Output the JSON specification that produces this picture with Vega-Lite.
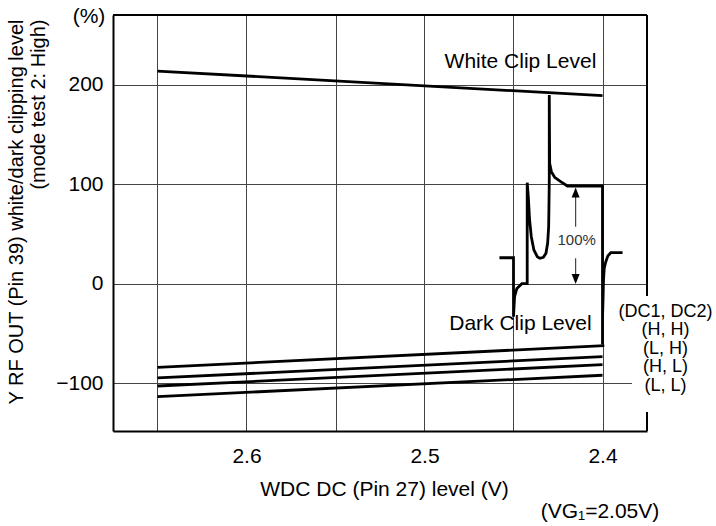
{
  "$schema": "https://vega.github.io/schema/vega-lite/v6.json",
  "width": 534,
  "height": 416,
  "autosize": {"type": "none"},
  "padding": {"left": 113, "top": 15, "right": 69, "bottom": 95},
  "background": "white",
  "config": {
    "view": {"stroke": null},
    "font": "Liberation Sans",
    "text": {"font": "Liberation Sans", "color": "black"}
  },
  "datasets": {
    "curves": [
      {"series": "white", "i": 0, "v": 2.65, "val": 213.7},
      {"series": "white", "i": 1, "v": 2.4, "val": 188.9},
      {"series": "HH", "i": 0, "v": 2.65, "val": -84.0},
      {"series": "HH", "i": 1, "v": 2.399, "val": -62.3},
      {"series": "LH", "i": 0, "v": 2.65, "val": -94.7},
      {"series": "LH", "i": 1, "v": 2.4, "val": -73.3},
      {"series": "HL", "i": 0, "v": 2.65, "val": -102.8},
      {"series": "HL", "i": 1, "v": 2.4, "val": -81.4},
      {"series": "LL", "i": 0, "v": 2.65, "val": -113.5},
      {"series": "LL", "i": 1, "v": 2.4, "val": -92.0},
      {"series": "wave", "i": 0, "v": 2.4579, "val": 26.1},
      {"series": "wave", "i": 1, "v": 2.45, "val": 26.1},
      {"series": "wave", "i": 2, "v": 2.45, "val": -33.2},
      {"series": "wave", "i": 3, "v": 2.4494, "val": -13.1},
      {"series": "wave", "i": 4, "v": 2.4481, "val": -4.7},
      {"series": "wave", "i": 5, "v": 2.4453, "val": 0},
      {"series": "wave", "i": 6, "v": 2.4423, "val": 0},
      {"series": "wave", "i": 7, "v": 2.4423, "val": 101.5},
      {"series": "wave", "i": 8, "v": 2.44169, "val": 87.4},
      {"series": "wave", "i": 9, "v": 2.44096, "val": 64.0},
      {"series": "wave", "i": 10, "v": 2.44, "val": 47.2},
      {"series": "wave", "i": 11, "v": 2.43854, "val": 33.9},
      {"series": "wave", "i": 12, "v": 2.43662, "val": 27.1},
      {"series": "wave", "i": 13, "v": 2.43515, "val": 25.5},
      {"series": "wave", "i": 14, "v": 2.43324, "val": 26.5},
      {"series": "wave", "i": 15, "v": 2.43177, "val": 30.5},
      {"series": "wave", "i": 16, "v": 2.43082, "val": 40.6},
      {"series": "wave", "i": 17, "v": 2.43025, "val": 57.3},
      {"series": "wave", "i": 18, "v": 2.43008, "val": 77.4},
      {"series": "wave", "i": 19, "v": 2.4299, "val": 104.2},
      {"series": "wave", "i": 20, "v": 2.4299, "val": 189.6},
      {"series": "wave", "i": 21, "v": 2.42969, "val": 121.0},
      {"series": "wave", "i": 22, "v": 2.42873, "val": 112.6},
      {"series": "wave", "i": 23, "v": 2.42687, "val": 106.9},
      {"series": "wave", "i": 24, "v": 2.42349, "val": 102.5},
      {"series": "wave", "i": 25, "v": 2.41972, "val": 98.2},
      {"series": "wave", "i": 26, "v": 2.4, "val": 98.2},
      {"series": "wave", "i": 27, "v": 2.4, "val": -61.0},
      {"series": "wave", "i": 28, "v": 2.4, "val": -33.8},
      {"series": "wave", "i": 29, "v": 2.3997, "val": -16.4},
      {"series": "wave", "i": 30, "v": 2.39944, "val": 3.7},
      {"series": "wave", "i": 31, "v": 2.399, "val": 15.8},
      {"series": "wave", "i": 32, "v": 2.39814, "val": 22.1},
      {"series": "wave", "i": 33, "v": 2.39701, "val": 27.8},
      {"series": "wave", "i": 34, "v": 2.39532, "val": 31.2},
      {"series": "wave", "i": 35, "v": 2.38873, "val": 31.2}
    ],
    "frame": [
      {"v": 2.675, "v2": 2.375, "val": 270, "val2": 270},
      {"v": 2.375, "v2": 2.375, "val": 270, "val2": -148}
    ],
    "mask": [
      {"v": 2.3834, "v2": 2.3362, "val": -12.3, "val2": -128.9}
    ],
    "arrowRules": [
      {"v": 2.4151, "val": 91.6, "val2": 57.3},
      {"v": 2.4151, "val": 25.5, "val2": 4.7}
    ],
    "arrowUp": [{"v": 2.4151, "val": 91.6}],
    "arrowDown": [{"v": 2.4151, "val": 4.7}],
    "clipLabels": [
      {"v": 2.4461, "val": 216.4, "label": "White Clip Level"},
      {"v": 2.4461, "val": -46.5, "label": "Dark Clip Level"}
    ],
    "stateLabels": [
      {"v": 2.3646, "val": -28.1, "label": "(DC1, DC2)\n(H, H)\n(L, H)\n(H, L)\n(L, L)"}
    ],
    "pct": [{"v": 2.4145, "val": 43.9, "label": "100%"}],
    "unit": [{"v": 2.6885, "val": 267.5, "label": "(%)"}],
    "cond": [{"v": 2.4014, "val": -235.4, "label": "(VG₁=2.05V)"}]
  },
  "encoding": {
    "x": {
      "field": "v",
      "type": "quantitative",
      "scale": {"domain": [2.375, 2.675], "reverse": true, "nice": false, "zero": false},
      "axis": {
        "values": [2.65, 2.6, 2.55, 2.5, 2.45, 2.4],
        "labelExpr": "abs(datum.value * 10 - round(datum.value * 10)) < 0.01 ? format(datum.value, '.1f') : ''",
        "grid": true,
        "gridColor": "#444",
        "gridWidth": 1,
        "ticks": false,
        "domainColor": "black",
        "domainWidth": 2,
        "labelFont": "Liberation Sans",
        "labelFontSize": 21,
        "labelColor": "black",
        "labelPadding": 14,
        "labelDx": 5,
        "labelFlush": false,
        "labelOverlap": false,
        "title": "WDC DC (Pin 27) level (V)",
        "titleFont": "Liberation Sans",
        "titleFontSize": 21,
        "titleFontWeight": "normal",
        "titleColor": "black",
        "titleBaseline": "alphabetic",
        "titleAlign": "center",
        "titleX": 271,
        "titleY": 64
      }
    },
    "y": {
      "field": "val",
      "type": "quantitative",
      "scale": {"domain": [-148, 270], "nice": false, "zero": false},
      "axis": {
        "values": [-100, 0, 100, 200],
        "grid": true,
        "gridColor": "#444",
        "gridWidth": 1,
        "ticks": false,
        "domainColor": "black",
        "domainWidth": 2,
        "labelFont": "Liberation Sans",
        "labelFontSize": 21,
        "labelColor": "black",
        "labelPadding": 10,
        "labelDy": 6,
        "labelOverlap": false,
        "labelFlush": false,
        "title": ["Y RF OUT (Pin 39) white/dark clipping level", "(mode test 2: High)"],
        "titleFont": "Liberation Sans",
        "titleFontSize": 20,
        "titleFontWeight": "normal",
        "titleColor": "black",
        "titleAngle": -90,
        "titleAlign": "right",
        "titleBaseline": "top",
        "titleLineHeight": 22,
        "titleX": -107,
        "titleY": 4
      }
    }
  },
  "layer": [
    {
      "data": {"name": "frame"},
      "mark": {"type": "rule", "color": "black", "strokeWidth": 2},
      "encoding": {"x2": {"field": "v2"}, "y2": {"field": "val2"}}
    },
    {
      "data": {"name": "mask"},
      "mark": {"type": "rect", "fill": "white", "strokeWidth": 0},
      "encoding": {"x2": {"field": "v2"}, "y2": {"field": "val2"}}
    },
    {
      "data": {"name": "curves"},
      "mark": {"type": "line", "color": "black", "strokeWidth": 2.8},
      "encoding": {
        "detail": {"field": "series", "type": "nominal"},
        "order": {"field": "i", "type": "quantitative"}
      }
    },
    {
      "data": {"name": "arrowRules"},
      "mark": {"type": "rule", "color": "#444", "strokeWidth": 1.2},
      "encoding": {"y2": {"field": "val2"}}
    },
    {
      "data": {"name": "arrowUp"},
      "mark": {"type": "point", "shape": "M0,-1L0.8,1L-0.8,1Z", "size": 100, "filled": true, "color": "black", "opacity": 1}
    },
    {
      "data": {"name": "arrowDown"},
      "mark": {"type": "point", "shape": "M0,1L0.8,-1L-0.8,-1Z", "size": 100, "filled": true, "color": "black", "opacity": 1}
    },
    {
      "data": {"name": "clipLabels"},
      "mark": {"type": "text", "fontSize": 21, "align": "center", "baseline": "alphabetic", "color": "black"},
      "encoding": {"text": {"field": "label"}}
    },
    {
      "data": {"name": "stateLabels"},
      "mark": {"type": "text", "fontSize": 18, "align": "center", "baseline": "middle", "lineBreak": "\n", "lineHeight": 18.6, "color": "black"},
      "encoding": {"text": {"field": "label"}}
    },
    {
      "data": {"name": "pct"},
      "mark": {"type": "text", "fontSize": 15, "align": "center", "baseline": "middle", "color": "#333"},
      "encoding": {"text": {"field": "label"}}
    },
    {
      "data": {"name": "unit"},
      "mark": {"type": "text", "fontSize": 21, "align": "center", "baseline": "middle", "color": "black"},
      "encoding": {"text": {"field": "label"}}
    },
    {
      "data": {"name": "cond"},
      "mark": {"type": "text", "fontSize": 21, "align": "center", "baseline": "alphabetic", "color": "black"},
      "encoding": {"text": {"field": "label"}}
    }
  ]
}
